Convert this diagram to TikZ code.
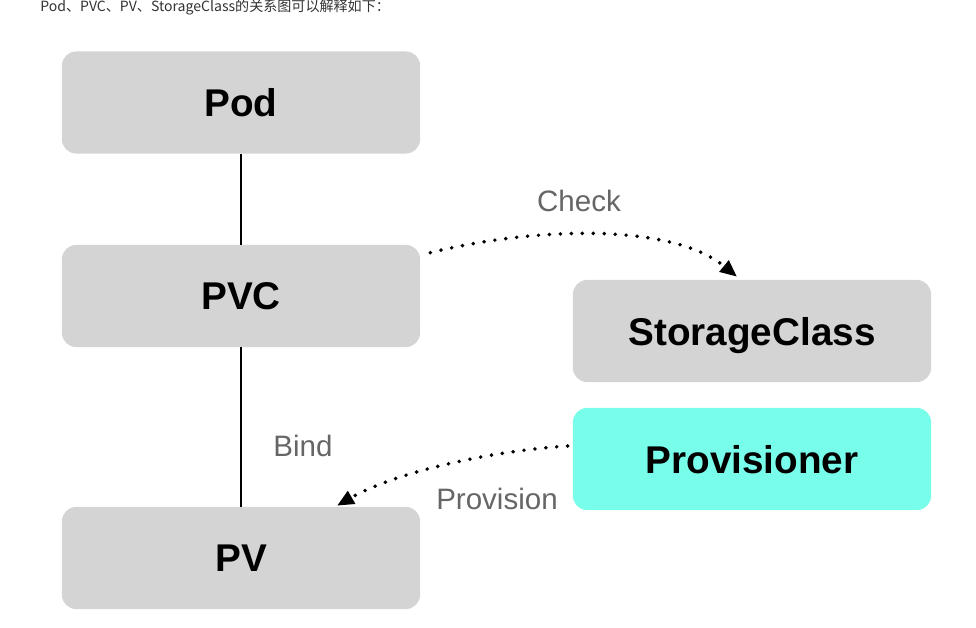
\documentclass[tikz,border=0pt]{standalone}
\usepackage{fontspec}
\setmainfont{Liberation Sans}
\newfontfamily\cjkfont{Noto Sans CJK SC}
\usepackage{xcolor}
\usepackage{tikz}
\usetikzlibrary{calc}
\usetikzlibrary{arrows.meta}
\usetikzlibrary{positioning}
\definecolor{boxgray}{HTML}{D4D4D4}
\definecolor{provcyan}{HTML}{78FDEA}
\definecolor{notegray}{HTML}{666666}

\begin{document}
\begin{tikzpicture}[x=0.025cm, y=-0.025cm,
  box/.style={rounded corners=10pt, fill=boxgray, minimum width=8.95cm,
    minimum height=2.55cm, text depth=0pt,
    font=\fontsize{27.5}{30}\selectfont\bfseries},
  edgetext/.style={text=notegray, font=\fontsize{21}{24}\selectfont},
  dotarrow/.style={line width=2.8pt, dash pattern=on 0pt off 7.8pt,
    line cap=round, -{Triangle[length=12pt, width=10pt]}}]
  \clip (0, 0) rectangle (976, 628);

  \node[anchor=base west, inner sep=0pt, text=black!80,
    font=\cjkfont\fontsize{10}{12}\selectfont] (intro) at (40, 12)
    {Pod、PVC、PV、StorageClass的关系图可以解释如下：};

  \node[box] (pod) at (241, 102.5) {Pod};
  \node[box] (pvc) at (241, 296) {PVC};
  \node[box] (pv) at (241, 558) {PV};
  \node[box] (sc) at (752, 331) {StorageClass};
  \node[box, fill=provcyan] (prov) at (752, 459) {Provisioner};

  \draw[line width=1.4pt] (pod) -- (pvc) (pvc) -- (pv);

  \draw[dotarrow] ($ (pvc.north east) + (10, 8) $)
    .. controls +(100, -25) and +(-67, -55) .. ($ (sc.north) + (-15, -3) $);
  \draw[dotarrow] ($ (prov.west) + (-5, -13) $)
    .. controls +(-67, 4) and +(63, -36) .. ($ (pv.north) + (96, -1) $);

  \node[edgetext] (check) at (579, 201) {Check};
  \node[edgetext] (bind) at (303, 446) {Bind};
  \node[edgetext] (provision) at (497, 499) {Provision};
\end{tikzpicture}
\end{document}
